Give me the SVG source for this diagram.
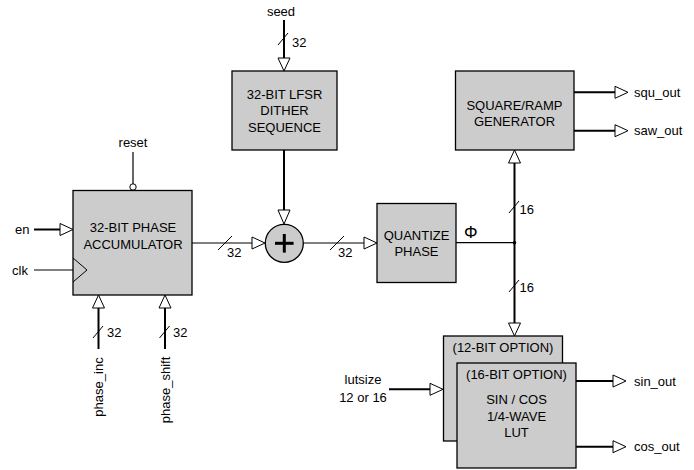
<svg xmlns="http://www.w3.org/2000/svg" width="694" height="470" viewBox="0 0 694 470">
<style>
text{font-family:"Liberation Sans",Arial,sans-serif;font-size:13px;fill:#000}
.c{text-anchor:middle}
.box{fill:#cccccc;stroke:#000;stroke-width:1.3}
.w{fill:none;stroke:#000;stroke-width:1.2}
.b{fill:none;stroke:#000;stroke-width:2}
.s{fill:none;stroke:#000;stroke-width:1}
</style>
<rect width="694" height="470" fill="#fff"/>
<g id="connectors">
<line class="w" x1="133" y1="152" x2="133" y2="184"/>
<line class="b" x1="34" y1="229.5" x2="60" y2="229.5"/>
<line class="w" x1="34" y1="270" x2="73" y2="270"/>
<line class="w" x1="192" y1="243" x2="252" y2="243"/>
<line class="s" x1="218" y1="250" x2="232" y2="236"/>
<line class="b" x1="284" y1="20" x2="284" y2="58"/>
<line class="s" x1="278" y1="45" x2="288" y2="33"/>
<line class="b" x1="284" y1="150" x2="284" y2="210"/>
<line class="w" x1="303" y1="243" x2="364" y2="243"/>
<line class="s" x1="330" y1="250" x2="344" y2="236"/>
<line class="w" x1="456" y1="242.7" x2="514.5" y2="242.7"/>
<circle cx="514.5" cy="242.7" r="1.8" fill="#000"/>
<line class="b" x1="514.5" y1="163" x2="514.5" y2="323"/>
<line class="s" x1="509" y1="213" x2="519" y2="201"/>
<line class="s" x1="509" y1="292" x2="519" y2="280"/>
<line class="b" x1="574" y1="92.3" x2="615" y2="92.3"/>
<line class="b" x1="574" y1="130.7" x2="615" y2="130.7"/>
<line class="b" x1="389" y1="389.3" x2="430" y2="389.3"/>
<line class="b" x1="576" y1="381" x2="613" y2="381"/>
<line class="b" x1="576" y1="446.7" x2="613" y2="446.7"/>
<line class="b" x1="98.5" y1="308" x2="98.5" y2="349"/>
<line class="s" x1="93" y1="338" x2="103" y2="326"/>
<line class="b" x1="165" y1="308" x2="165" y2="349"/>
<line class="s" x1="159.5" y1="338" x2="169.5" y2="326"/>
<g id="arrowheads" fill="#ffffff" stroke="#000000" stroke-width="1">
<circle cx="133" cy="187" r="3.2"/>
<polygon points="60,223.5 73,229.5 60,235.5"/>
<polygon points="252,237 265,243 252,249"/>
<polygon points="278,58 284,71 290,58"/>
<polygon points="278,210 284,224 290,210"/>
<polygon points="364,237 377,243 364,249"/>
<polygon points="508.5,163 514.5,150 520.5,163"/>
<polygon points="508.5,323 514.5,336 520.5,323"/>
<polygon points="615,86.3 628,92.3 615,98.3"/>
<polygon points="615,124.7 628,130.7 615,136.7"/>
<polygon points="430,383.3 443,389.3 430,395.3"/>
<polygon points="613,375 626,381 613,387"/>
<polygon points="613,440.7 626,446.7 613,452.7"/>
<polygon points="92.5,308 98.5,295 104.5,308"/>
<polygon points="159,308 165,295 171,308"/>
</g>
</g>
<g id="labels">
<text class="c" x="133" y="147">reset</text>
<text x="15" y="234">en</text>
<text x="12" y="274.5">clk</text>
<text class="c" x="281" y="16">seed</text>
<text x="292" y="47">32</text>
<text x="227" y="256.5">32</text>
<text x="338" y="256.5">32</text>
<text x="464" y="238" style="font-size:17px">Φ</text>
<text x="519.5" y="213.5">16</text>
<text x="519.5" y="291.5">16</text>
<text x="634" y="96.5">squ_out</text>
<text x="634" y="135">saw_out</text>
<text x="634" y="385.5">sin_out</text>
<text x="634" y="451">cos_out</text>
<text class="c" x="363" y="384">lutsize</text>
<text class="c" x="363" y="401.5">12 or 16</text>
<text x="107" y="336.5">32</text>
<text x="173" y="336.5">32</text>
<text class="c" transform="translate(103,387) rotate(-90)">phase_inc</text>
<text class="c" transform="translate(170,390) rotate(-90)">phase_shift</text>
</g>
<g id="accumulator">
<rect class="box" x="73" y="190.5" width="119" height="104.5"/>
<polyline class="s" points="73,258 87,270 73,282"/>
<text class="c" x="133" y="232">32-BIT PHASE</text>
<text class="c" x="133" y="249">ACCUMULATOR</text>
</g>
<g id="lfsr">
<rect class="box" x="232" y="71" width="105" height="79"/>
<text class="c" x="284.5" y="99">32-BIT LFSR</text>
<text class="c" x="284.5" y="115">DITHER</text>
<text class="c" x="284.5" y="131.5">SEQUENCE</text>
</g>
<g id="adder">
<circle cx="284.3" cy="243.3" r="19" fill="#cccccc" stroke="#000" stroke-width="1.3"/>
<line x1="275" y1="243.3" x2="293.6" y2="243.3" stroke="#000" stroke-width="3"/>
<line x1="284.3" y1="234" x2="284.3" y2="252.6" stroke="#000" stroke-width="3"/>
</g>
<g id="quantize">
<rect class="box" x="377" y="203.5" width="79" height="79"/>
<text class="c" x="416.5" y="239.5">QUANTIZE</text>
<text class="c" x="416.5" y="256">PHASE</text>
</g>
<g id="squareramp">
<rect class="box" x="455.5" y="71" width="118.5" height="79"/>
<text class="c" x="514.5" y="109.5">SQUARE/RAMP</text>
<text class="c" x="514.5" y="125.5">GENERATOR</text>
</g>
<g id="lut12">
<rect class="box" x="443.5" y="336" width="119" height="105"/>
<text class="c" x="503" y="352">(12-BIT OPTION)</text>
</g>
<g id="lut16">
<rect class="box" x="457" y="363" width="119" height="105"/>
<text class="c" x="516.5" y="378.5">(16-BIT OPTION)</text>
<text class="c" x="516.5" y="404">SIN / COS</text>
<text class="c" x="516.5" y="420.5">1/4-WAVE</text>
<text class="c" x="516.5" y="436.5">LUT</text>
</g>
</svg>
